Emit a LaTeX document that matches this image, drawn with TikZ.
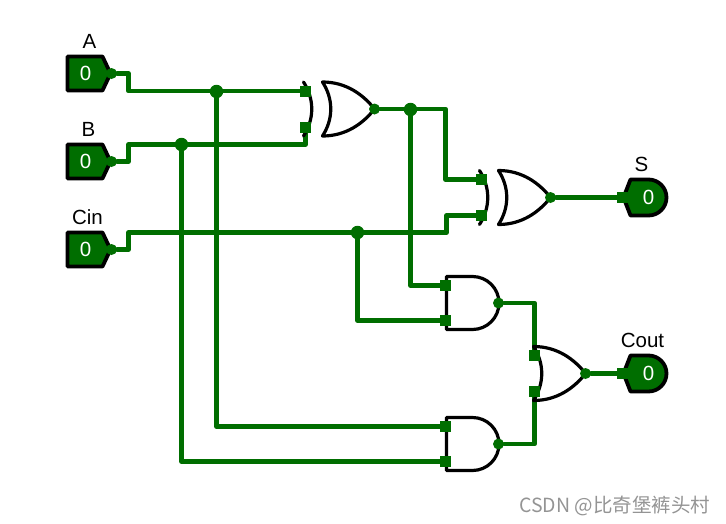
\documentclass[tikz,border=0pt]{standalone}
\usepackage{fontspec}
\setmainfont{Liberation Sans}
\newfontfamily\cjk{Noto Sans CJK SC}
\usetikzlibrary{backgrounds}
\definecolor{wiregreen}{RGB}{0,110,0}
\tikzset{
  wire/.style={draw=wiregreen,line width=4.7pt,line join=round,line cap=round},
  gateline/.style={draw=black,line width=3.2pt,line join=round,line cap=round},
  boxline/.style={draw=black,fill=wiregreen,line width=3.8pt,line join=round},
  pad/.style={fill=wiregreen,minimum size=11pt,inner sep=0pt},
  pindot/.style={circle,fill=wiregreen,minimum size=11pt,inner sep=0pt},
  joint/.style={circle,fill=wiregreen,minimum size=13.5pt,inner sep=0pt},
  lab/.style={font=\fontsize{20.5pt}{20.5pt}\selectfont,inner sep=0pt},
  val/.style={font=\fontsize{20.5pt}{20.5pt}\selectfont,text=white,inner sep=0pt},
  inbox/.pic={
    \draw[boxline] (-21,-17) -- (14,-17) -- (22,0) -- (14,17) -- (-21,17) -- cycle;
    \node[val] (-val) at (-3,0) {0};
    \node[pindot] (-out) at (23,0) {};
  },
  outbox/.pic={
    \draw[boxline] (-25,0) -- (-18,-18) -- (0,-18) arc [radius=18, start angle=-90, end angle=90] -- (-18,18) -- cycle;
    \node[val] (-val) at (0,0) {0};
    \node[pad] (-in) at (-26,0) {};
  },
  andgate/.pic={
    \draw[gateline] (0,-26.5) -- (26,-26.5) arc [radius=26.5, start angle=-90, end angle=90] -- (0,26.5) -- cycle;
    \node[pad] (-in1) at (-1,-17.5) {};
    \node[pad] (-in2) at (-1,17.5) {};
    \node[pindot] (-out) at (52,0) {};
  },
  orgate/.pic={
    \draw[gateline] (0,-27) .. controls (24,-27) and (41,-14) .. (52,0)
      .. controls (41,14) and (24,27) .. (0,27)
      .. controls (11,10) and (11,-10) .. (0,-27) -- cycle;
    \node[pad] (-in1) at (1,-18) {};
    \node[pad] (-in2) at (1,18) {};
    \node[pindot] (-out) at (52,0) {};
  },
  xorgate/.pic={
    \draw[gateline] (0,-27) .. controls (11,-10) and (11,10) .. (0,27);
    \draw[gateline] (19,-27) .. controls (43,-27) and (60,-14) .. (71,0)
      .. controls (60,14) and (43,27) .. (19,27)
      .. controls (30,10) and (30,-10) .. (19,-27) -- cycle;
    \node[pad] (-in1) at (2,-18) {};
    \node[pad] (-in2) at (2,18) {};
    \node[pindot] (-out) at (71,0) {};
  }
}

\begin{document}
\begin{tikzpicture}[x=1pt,y=-1pt]
  \useasboundingbox (-0.5,-0.5) rectangle (725.5,522.5);
  % inputs and outputs
  \pic (inA) at (88,73) {inbox};
  \pic (inB) at (88,161) {inbox};
  \pic (inC) at (88,249) {inbox};
  \pic (outS) at (648,197) {outbox};
  \pic (outC) at (648,373) {outbox};
  \node [lab] (labA) at (89,41) {A};
  \node [lab] (labB) at (88,129) {B};
  \node [lab] (labC) at (87,217) {Cin};
  \node [lab] (labS) at (641,164) {S};
  \node [lab] (labO) at (642,340) {Cout};
  % gates
  \pic (xor1) at (303,108.5) {xorgate};
  \pic (xor2) at (479,197) {xorgate};
  \pic (and1) at (446,302.5) {andgate};
  \pic (and2) at (446,443.5) {andgate};
  \pic (or1) at (533,373) {orgate};
  % joints
  \node [joint] (jA) at (216,91) {};
  \node [joint] (jB) at (181,144) {};
  \node [joint] (jC) at (357,232) {};
  \node [joint] (jX) at (410,109) {};
  % wires
  \begin{scope}[on background layer]
    \draw [wire] (inA-out) -- ++(17,0) |- (xor1-in1);
    \draw [wire] (inB-out) -- ++(17,0) -- ++(0,-17) -| (xor1-in2);
    \draw [wire] (inC-out) -- ++(17,0) -- ++(0,-17) -- ++(318,0) |- (xor2-in2);
    \draw [wire] (xor1-out) -- ++(71,0) |- (xor2-in1);
    \draw [wire] (xor2-out) -- (outS-in);
    \draw [wire] (jX) |- (and1-in1);
    \draw [wire] (jC) |- (and1-in2);
    \draw [wire] (jA) |- (and2-in1);
    \draw [wire] (jB) |- (and2-in2);
    \draw [wire] (and1-out) -| (or1-in1);
    \draw [wire] (and2-out) -| (or1-in2);
    \draw [wire] (or1-out) -- (outC-in);
  \end{scope}
  \node [anchor=east,text=black!42,inner sep=0pt,font=\cjk\fontsize{19.5pt}{19.5pt}\selectfont] (mark) at (710,505) {CSDN @比奇堡裤头村};
\end{tikzpicture}
\end{document}
